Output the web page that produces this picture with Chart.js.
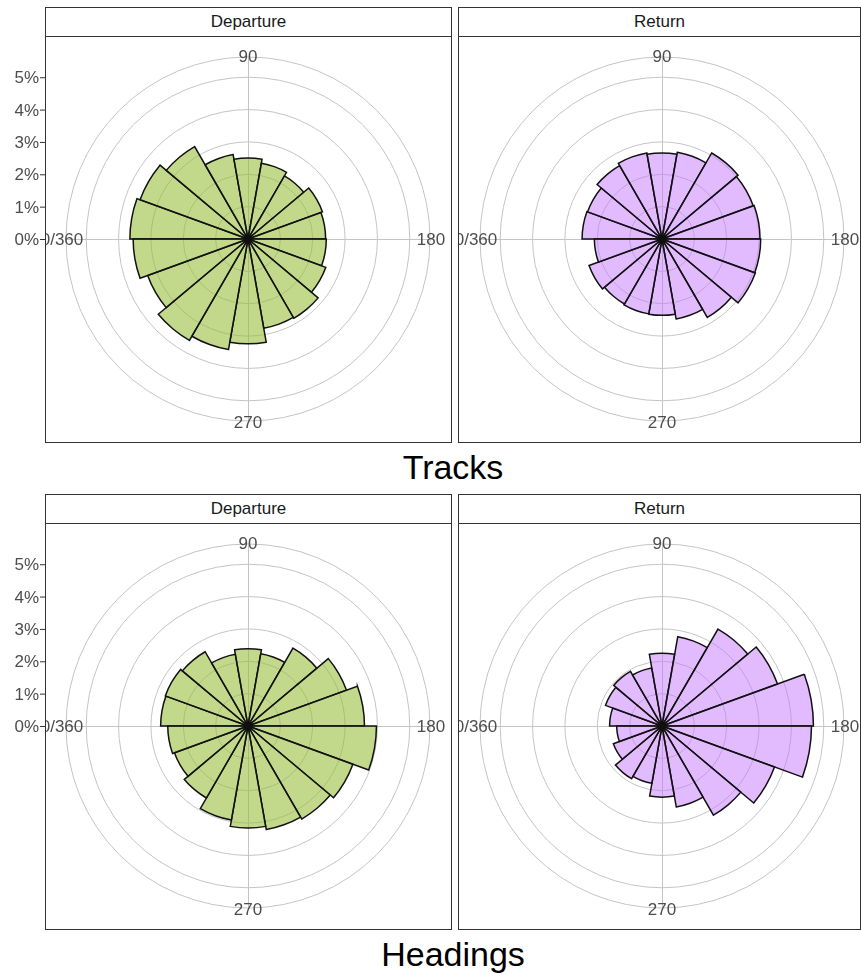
<!DOCTYPE html>
<html>
<head>
<meta charset="utf-8">
<script src="https://cdn.jsdelivr.net/npm/chart.js@4.4.1/dist/chart.umd.min.js"></script>
<style>
  body { margin: 0; background: #fff; font-family: "Liberation Sans", Arial, sans-serif; }
  #page { position: relative; width: 861px; height: 974px; overflow: hidden; }
  canvas { position: absolute; }
  .strip { position: absolute; box-sizing: border-box; border: 1px solid #333; background: #fff;
           color: #1a1a1a; font-size: 17px; text-align: center; }
  .title { position: absolute; left: 45px; width: 816px; text-align: center; font-size: 34px; color: #000; }
</style>
</head>
<body>
<div id="page">
  <div class="strip" style="left:45px;top:7px;width:407px;height:30px;line-height:28px">Departure</div>
  <div class="strip" style="left:458px;top:7px;width:403px;height:30px;line-height:28px">Return</div>
  <canvas id="tracksDep" width="452" height="407" style="left:0;top:36px"></canvas>
  <canvas id="tracksRet" width="403" height="407" style="left:458px;top:36px"></canvas>
  <div class="title" style="top:446px;line-height:42px">Tracks</div>

  <div class="strip" style="left:45px;top:494px;width:407px;height:30px;line-height:28px">Departure</div>
  <div class="strip" style="left:458px;top:494px;width:403px;height:30px;line-height:28px">Return</div>
  <canvas id="headDep" width="452" height="407" style="left:0;top:523px"></canvas>
  <canvas id="headRet" width="403" height="407" style="left:458px;top:523px"></canvas>
  <div class="title" style="top:933px;line-height:42px">Headings</div>
</div>
<script>
// 18 direction bins of 20 degrees, clockwise from 0/360 (left)
const bins = ["0-20", "20-40", "40-60", "60-80", "80-100", "100-120", "120-140", "140-160", "160-180",
              "180-200", "200-220", "220-240", "240-260", "260-280", "280-300", "300-320", "320-340", "340-360"];

// share of all records, in percent
const tracksDeparture   = [3.65, 3.55, 3.3, 2.65, 2.5, 2.38, 2.25, 2.45, 2.4, 2.42, 2.56, 2.83, 2.8, 3.24, 3.47, 3.62, 3.3, 3.55];
const tracksReturn      = [2.47, 2.45, 2.62, 2.7, 2.66, 2.72, 3.07, 3.0, 3.03, 3.05, 3.07, 2.8, 2.51, 2.36, 2.35, 2.32, 2.4, 2.09];
const headingsDeparture = [2.7, 2.72, 2.65, 2.25, 2.39, 2.27, 2.78, 3.24, 3.6, 3.97, 3.45, 3.32, 3.25, 3.15, 2.95, 2.57, 2.42, 2.48];
const headingsReturn    = [1.62, 1.86, 1.95, 1.82, 2.25, 2.8, 3.46, 3.8, 4.68, 4.62, 3.7, 3.18, 2.54, 2.2, 1.8, 1.88, 1.6, 1.4];

const radialTicks = [0, 1, 2, 3, 4, 5];
const radialMax = 5.625;          // outer circle sits a bit beyond 5%
const angleLabels = ["0/360", "90", "180", "270"];
const angleDegrees = [0, 90, 180, 270];

const colors = {
  green: "rgba(150, 187, 55, 0.58)",
  purple: "rgba(196, 120, 252, 0.5)",
  border: "#111111",
  grid: "#c4c4c4",
  axisText: "#4d4d4d",
  frame: "#333333",
};

const polarDecor = {
  id: "polarDecor",
  beforeDatasetsDraw(chart, args, opts) {
    const scale = chart.scales.r;
    const ctx = chart.ctx;
    const R = scale.getDistanceFromCenterForValue(scale.max);
    const cx = scale.xCenter + 0.5, cy = scale.yCenter + 0.5;
    ctx.save();
    ctx.strokeStyle = colors.grid;
    ctx.lineWidth = 1;
    ctx.beginPath();
    ctx.moveTo(cx - R, cy); ctx.lineTo(cx + R, cy);
    ctx.moveTo(cx, cy - R); ctx.lineTo(cx, cy + R);
    ctx.stroke();
    ctx.restore();
  },
  afterDraw(chart, args, opts) {
    const scale = chart.scales.r;
    const ctx = chart.ctx;
    const p = opts.panel;
    const R = scale.getDistanceFromCenterForValue(scale.max) + 1;
    ctx.save();
    ctx.beginPath();
    ctx.rect(p.left, p.top, p.right - p.left, p.bottom - p.top);
    ctx.clip();
    ctx.font = '17px "Liberation Sans", Arial, sans-serif';
    ctx.fillStyle = colors.axisText;
    ctx.textAlign = "center";
    ctx.textBaseline = "middle";
    angleLabels.forEach((lab, i) => {
      const t = angleDegrees[i] * Math.PI / 180;
      const r = i === 0 ? R + 3 : R;
      ctx.fillText(lab, scale.xCenter - r * Math.cos(t), scale.yCenter - r * Math.sin(t) + 1);
    });
    ctx.restore();

    ctx.save();
    ctx.strokeStyle = colors.frame;
    ctx.lineWidth = 1;
    ctx.strokeRect(p.left + 0.5, p.top + 0.5, p.right - p.left - 1, p.bottom - p.top - 1);
    if (opts.yAxis) {
      ctx.font = '17px "Liberation Sans", Arial, sans-serif';
      ctx.fillStyle = colors.axisText;
      ctx.textAlign = "right";
      ctx.textBaseline = "middle";
      radialTicks.forEach((v) => {
        const y = scale.yCenter - scale.getDistanceFromCenterForValue(v) + 0.5;
        ctx.beginPath();
        ctx.moveTo(p.left - 5, y);
        ctx.lineTo(p.left, y);
        ctx.stroke();
        ctx.fillText(v + "%", p.left - 6, y + 1);
      });
    }
    ctx.restore();
  },
};

function makeRose(id, values, fill, left) {
  const canvas = document.getElementById(id);
  const panel = left
    ? { left: 45, top: 0, right: 452, bottom: 407 }
    : { left: 0, top: 0, right: 403, bottom: 407 };
  const padding = left
    ? { left: 66, right: 22, top: 21, bottom: 22 }
    : { left: 22, right: 17, top: 21, bottom: 22 };
  return new Chart(canvas.getContext("2d"), {
    type: "polarArea",
    data: {
      labels: bins,
      datasets: [{
        data: values,
        backgroundColor: fill,
        borderColor: colors.border,
        borderWidth: 1.5,
        borderJoinStyle: "miter",
      }],
    },
    options: {
      responsive: false,
      animation: false,
      events: [],
      layout: { padding: padding },
      plugins: {
        legend: { display: false },
        tooltip: { enabled: false },
        polarDecor: { panel: panel, yAxis: left },
      },
      scales: {
        r: {
          startAngle: -90,
          min: 0,
          max: radialMax,
          ticks: { display: false, stepSize: 1 },
          afterBuildTicks: (scale) => {
            scale.ticks = radialTicks.concat([radialMax]).map((v) => ({ value: v }));
          },
          grid: { circular: true, color: colors.grid, lineWidth: 1 },
          angleLines: { display: false },
          pointLabels: { display: false },
        },
      },
    },
    plugins: [polarDecor],
  });
}

makeRose("tracksDep", tracksDeparture, colors.green, true);
makeRose("tracksRet", tracksReturn, colors.purple, false);
makeRose("headDep", headingsDeparture, colors.green, true);
makeRose("headRet", headingsReturn, colors.purple, false);
</script>
</body>
</html>
